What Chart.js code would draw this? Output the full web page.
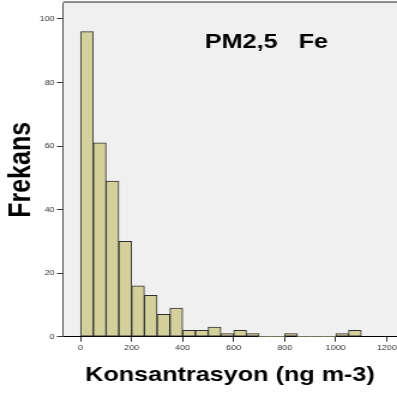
<!DOCTYPE html>
<html>
<head>
<meta charset="utf-8">
<script src="https://cdn.jsdelivr.net/npm/chart.js@4/dist/chart.umd.min.js"></script>
<style>
  html, body { margin: 0; padding: 0; background: #fff; overflow: hidden; }
</style>
</head>
<body>
<!-- canvas is drawn narrow and stretched out wide by its inline style -->
<canvas id="hist" width="331" height="396" style="display:block;width:397px;height:396px"></canvas>
<script>
// Fe in PM2,5: histogram bins (ng m-3) and counts per bin
const binStarts = [0, 50, 100, 150, 200, 250, 300, 350, 400, 450, 500, 550,
                   600, 650, 700, 750, 800, 850, 900, 950, 1000, 1050];
const binWidth = 50;
const counts = [96, 61, 49, 30, 16, 13, 7, 9, 2, 2, 3, 1,
                2, 1, 0, 0, 1, 0, 0, 0, 1, 2];

const xTicks = [0, 200, 400, 600, 800, 1000, 1200];
const yTicks = [0, 20, 40, 60, 80, 100];

const chartLabel = 'PM2,5   Fe';
const xTitle = 'Konsantrasyon (ng m-3)';
const yTitle = 'Frekans';

const family = '"Liberation Sans", Arial, sans-serif';

// grey plot background, top frame line and the label inside the plot
const plotFrame = {
  id: 'plotFrame',
  beforeDraw(chart) {
    const { ctx, chartArea: a } = chart;
    ctx.save();
    ctx.fillStyle = '#f0f0f0';
    ctx.fillRect(a.left, a.top, a.right - a.left, a.bottom - a.top);
    ctx.strokeStyle = '#8c8c8c';
    ctx.lineWidth = 2;
    ctx.beginPath();
    ctx.moveTo(a.left, a.top - 1);
    ctx.lineTo(a.right, a.top - 1);
    ctx.stroke();
    ctx.restore();
  },
  afterDraw(chart) {
    const { ctx, chartArea: a } = chart;
    ctx.save();
    ctx.font = 'bold 21px ' + family;
    ctx.fillStyle = '#000';
    ctx.textAlign = 'left';
    ctx.textBaseline = 'alphabetic';
    ctx.fillText(chartLabel, a.left + 118.3, a.top + 45.3);
    ctx.restore();
  }
};

new Chart(document.getElementById('hist'), {
  type: 'bar',
  data: {
    datasets: [{
      data: binStarts.map((s, i) => ({ x: s + binWidth / 2, y: counts[i] })),
      backgroundColor: '#d4d09c',
      borderColor: '#303030',
      borderWidth: c => (c.raw && c.raw.y > 0 ? 1 : 0),
      borderSkipped: false,
      barPercentage: 1,
      categoryPercentage: 1
    }]
  },
  options: {
    responsive: false,
    animation: false,
    layout: { padding: { top: 3, right: 0, bottom: 0, left: 0 } },
    plugins: {
      legend: { display: false },
      tooltip: { enabled: false }
    },
    scales: {
      x: {
        type: 'linear',
        min: -69,
        max: 1240,
        offset: false,
        afterBuildTicks: s => { s.ticks = xTicks.map(v => ({ value: v })); },
        afterFit: s => { s.height = 59.3; s.paddingLeft = 0; s.paddingRight = 0; },
        grid: { drawOnChartArea: false, offset: false, tickLength: 5, tickColor: '#333' },
        border: { display: true, color: '#000', width: 1 },
        ticks: {
          font: { family, size: 7.5 }, color: '#333', padding: 2,
          maxRotation: 0, autoSkip: false, callback: v => String(v)
        },
        title: {
          display: true, text: xTitle, color: '#000',
          font: { family, size: 21, weight: 'bold' },
          padding: { top: 0, bottom: 8.4 }
        }
      },
      y: {
        min: 0,
        max: 105,
        afterBuildTicks: s => { s.ticks = yTicks.map(v => ({ value: v })); },
        afterFit: s => { s.width = 52.5; s.paddingTop = 0; s.paddingBottom = 0; },
        grid: { drawOnChartArea: false, tickLength: 5, tickColor: '#333' },
        border: { display: true, color: '#4a4a4a', width: 1 },
        ticks: { font: { family, size: 7.5 }, color: '#333', padding: 2 },
        title: {
          display: true, text: yTitle, color: '#000',
          font: { family, size: 25, weight: 'bold' },
          padding: { top: 3.4, bottom: 0 }
        }
      }
    }
  },
  plugins: [plotFrame]
});
</script>
</body>
</html>
